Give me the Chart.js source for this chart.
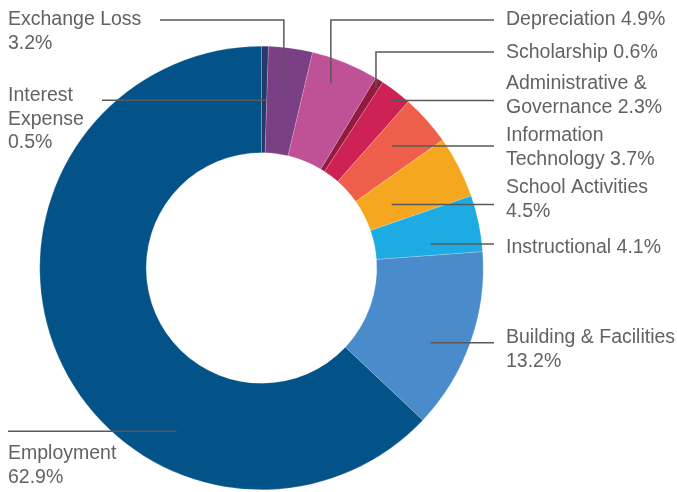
<!DOCTYPE html>
<html><head><meta charset="utf-8">
<script src="https://cdn.jsdelivr.net/npm/chart.js@4.4.1/dist/chart.umd.min.js"></script>
<style>html,body{margin:0;padding:0;background:#fff}#wrap{width:677px;height:492px;position:relative}</style>
</head><body><div id="wrap"><canvas id="c" width="677" height="492"></canvas></div>
<script>
const categories = ["Interest Expense","Exchange Loss","Depreciation","Scholarship","Administrative & Governance","Information Technology","School Activities","Instructional","Building & Facilities","Employment"];
const values = [0.5,3.2,4.9,0.6,2.3,3.7,4.5,4.1,13.2,62.9];
const colors = ["#27396b","#7a3f84","#bf5197","#921a3f","#cd2253","#ee5f4b","#f5a81f","#1eabe4","#498bcb","#035389"];
const labelLines = [
  ["Interest","Expense","0.5%"],
  ["Exchange Loss","3.2%"],
  ["Depreciation 4.9%"],
  ["Scholarship 0.6%"],
  ["Administrative &","Governance 2.3%"],
  ["Information","Technology 3.7%"],
  ["School Activities","4.5%"],
  ["Instructional 4.1%"],
  ["Building & Facilities","13.2%"],
  ["Employment","62.9%"]
];
// layout: text position, leader style, where the leader meets the slice (fraction along slice, fraction of outer radius)
const layout = [
  {x:8,  y:101, side:"L", kind:"h", from:102, t:0.9,  r:0.757},
  {x:8,  y:25,  side:"L", kind:"elbow", from:160, ly:20, t:0.46, r:0.815},
  {x:506,y:25,  side:"R", kind:"elbow", from:494, ly:20, t:0.41, r:0.89},
  {x:506,y:58,  side:"R", kind:"elbow", from:494, ly:52, t:0.71, r:0.96},
  {x:506,y:89,  side:"R", kind:"h", from:494, t:0.55, r:0.955},
  {x:506,y:141, side:"R", kind:"h", from:494, t:0.41, r:0.806},
  {x:506,y:193, side:"R", kind:"h", from:494, t:0.57, r:0.653},
  {x:506,y:253, side:"R", kind:"h", from:494, t:0.74, r:0.77},
  {x:506,y:343, side:"R", kind:"h", from:494, t:0.59, r:0.833},
  {x:8,  y:459, side:"L", kind:"h", from:8, t:0.327, r:0.83}
];
const LH = 23.5;
const labelPlugin = {
  id: "labels",
  afterDatasetsDraw(chart) {
    const ctx = chart.ctx;
    const meta = chart.getDatasetMeta(0);
    ctx.save();
    ctx.strokeStyle = "#595959";
    ctx.lineWidth = 1.5;
    ctx.fillStyle = "#626262";
    ctx.font = "19.5px 'Liberation Sans', Helvetica, Arial, sans-serif";
    ctx.textBaseline = "alphabetic";
    ctx.textAlign = "left";
    meta.data.forEach((arc, i) => {
      const L = layout[i];
      const p = arc.getProps(["x","y","startAngle","endAngle","outerRadius"], true);
      const a = p.startAngle + (p.endAngle - p.startAngle) * L.t;
      const rr = p.outerRadius * L.r;
      const ex = p.x + Math.cos(a) * rr;
      const ey = p.y + Math.sin(a) * rr;
      ctx.beginPath();
      if (L.kind === "elbow") {
        ctx.moveTo(L.from, L.ly);
        ctx.lineTo(ex, L.ly);
        ctx.lineTo(ex, ey);
      } else {
        ctx.moveTo(L.from, ey);
        ctx.lineTo(ex, ey);
      }
      ctx.stroke();
      labelLines[i].forEach((s, k) => ctx.fillText(s, L.x, L.y + k * LH));
    });
    ctx.restore();
  }
};
new Chart(document.getElementById("c"), {
  type: "doughnut",
  data: { labels: categories, datasets: [{ data: values, backgroundColor: colors, borderWidth: 0.5, borderColor: "rgba(255,255,255,0.35)" }] },
  options: {
    responsive: false,
    animation: false,
    cutout: "52%",
    layout: { padding: { left: 39, right: 193, top: 46, bottom: 2 } },
    plugins: { legend: { display: false }, tooltip: { enabled: false } }
  },
  plugins: [labelPlugin]
});
</script>
</body></html>
